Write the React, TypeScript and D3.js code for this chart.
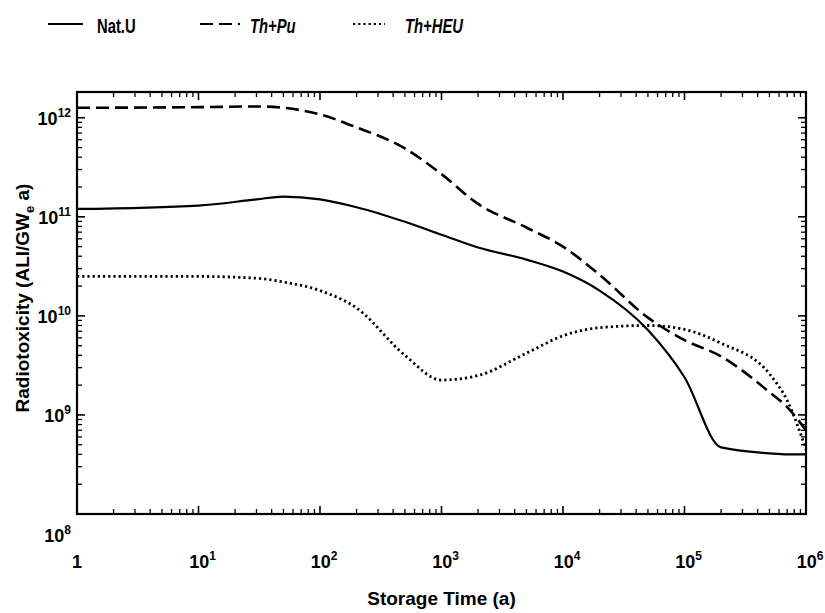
import React from 'react'
import * as d3 from 'd3'

// storage times (years)
const times = [1, 10, 30, 50, 100, 200, 500, 1e3, 2e3, 5e3, 1e4, 2e4, 5e4, 1e5, 2e5, 5e5, 7e5, 1e6]

// radiotoxicity (ALI/GWe a)
const natU = [1.2e11, 1.3e11, 1.5e11, 1.6e11, 1.5e11, 1.25e11, 8.9e10, 6.6e10, 4.9e10, 3.7e10, 2.8e10, 1.8e10, 7.2e9, 2.4e9, 4.7e8, 4.1e8, 4.0e8, 4.0e8]
const thPu = [1.26e12, 1.28e12, 1.3e12, 1.26e12, 1.08e12, 8.0e11, 4.9e11, 2.7e11, 1.35e11, 7.8e10, 5.0e10, 2.6e10, 9.6e9, 5.7e9, 3.9e9, 1.7e9, 1.2e9, 7.0e8]
const thHeu = [2.5e10, 2.5e10, 2.4e10, 2.2e10, 1.8e10, 1.2e10, 4.0e9, 2.25e9, 2.5e9, 4.2e9, 6.3e9, 7.6e9, 8.0e9, 7.3e9, 5.3e9, 2.6e9, 1.4e9, 4.5e8]

const seriesNames = ['Nat.U', 'Th+Pu', 'Th+HEU']
const xTickExps = [0, 1, 2, 3, 4, 5, 6]
const yTickExps = [8, 9, 10, 11, 12]

const W = 825
const H = 613
const margin = { top: 92, right: 19, bottom: 99, left: 77 }
const font = '"Liberation Sans", Arial, sans-serif'

function Pow({ exp }: { exp: number }) {
  if (exp === 0) return <>1</>
  return (
    <>
      10<tspan fontSize="12" dy="-8">{exp}</tspan>
    </>
  )
}

export default function App() {
  const w = W - margin.left - margin.right
  const h = H - margin.top - margin.bottom

  const x = d3.scaleLog().domain([1, 1e6]).range([0, w])
  const y = d3.scaleLog().domain([1e8, Math.pow(10, 12.26)]).range([h, 0])

  const line = d3.line<[number, number]>()
    .x(d => x(d[0]))
    .y(d => y(d[1]))
    .curve(d3.curveMonotoneX)

  const mk = (vals: number[]) => times.map((t, i) => [t, vals[i]] as [number, number])

  const styles = [
    { data: mk(natU), dash: 'none', width: 2.2 },
    { data: mk(thPu), dash: '13,6', width: 2.6 },
    { data: mk(thHeu), dash: '2.2,3', width: 2.8 }
  ]

  // minor ticks for log axes
  const xMinor: number[] = []
  for (let k = 0; k < 6; k++) for (let m = 2; m <= 9; m++) xMinor.push(m * Math.pow(10, k))
  const yMinor: number[] = []
  for (let k = 8; k < 13; k++) for (let m = 2; m <= 9; m++) {
    const v = m * Math.pow(10, k)
    if (v <= y.domain()[1]) yMinor.push(v)
  }

  const legendX = [48, 200, 353]
  const legendLen = [35, 40, 32]
  const legendGap = [14, 10, 20]

  return (
    <svg width={W} height={H} style={{ position: 'absolute', left: 0, top: 0, background: '#fff' }}>
      {/* legend */}
      <g fontFamily={font} fontWeight="bold" fontSize="20">
        {seriesNames.map((name, i) => (
          <g key={name} transform={`translate(${legendX[i]},24)`}>
            <line x1={0} x2={legendLen[i]} y1={0} y2={0} stroke="#000"
              strokeWidth={styles[i].width * 0.8} strokeDasharray={styles[i].dash} />
            <text transform={`translate(${legendLen[i] + legendGap[i]},9) scale(0.74,1)`}
              fontStyle={i === 0 ? 'normal' : 'italic'}>{name}</text>
          </g>
        ))}
      </g>

      <g transform={`translate(${margin.left},${margin.top})`}>
        {/* curves */}
        {styles.map((s, i) => (
          <path key={i} d={line(s.data) || ''} fill="none" stroke="#000"
            strokeWidth={s.width} strokeDasharray={s.dash} />
        ))}

        {/* frame */}
        <rect x={0} y={0} width={w} height={h} fill="none" stroke="#000" strokeWidth={2.2} />

        {/* x ticks, inward on top and bottom */}
        {xMinor.map((v, i) => (
          <g key={'xm' + i} stroke="#000" strokeWidth={1.3}>
            <line x1={x(v)} x2={x(v)} y1={h} y2={h - 5} />
            <line x1={x(v)} x2={x(v)} y1={0} y2={5} />
          </g>
        ))}
        {xTickExps.map(e => (
          <g key={'xM' + e} stroke="#000" strokeWidth={1.6}>
            <line x1={x(Math.pow(10, e))} x2={x(Math.pow(10, e))} y1={h} y2={h - 8} />
            <line x1={x(Math.pow(10, e))} x2={x(Math.pow(10, e))} y1={0} y2={8} />
          </g>
        ))}

        {/* y ticks, inward on left and right */}
        {yMinor.map((v, i) => (
          <g key={'ym' + i} stroke="#000" strokeWidth={1.3}>
            <line x1={0} x2={5} y1={y(v)} y2={y(v)} />
            <line x1={w} x2={w - 5} y1={y(v)} y2={y(v)} />
          </g>
        ))}
        {yTickExps.map(e => (
          <g key={'yM' + e} stroke="#000" strokeWidth={1.6}>
            <line x1={0} x2={8} y1={y(Math.pow(10, e))} y2={y(Math.pow(10, e))} />
            <line x1={w} x2={w - 8} y1={y(Math.pow(10, e))} y2={y(Math.pow(10, e))} />
          </g>
        ))}

        {/* tick labels */}
        <g fontFamily={font} fontWeight="bold" fontSize="18" fill="#000">
          {xTickExps.map(e => (
            <text key={'xl' + e} x={x(Math.pow(10, e)) + (e === 0 ? 0 : 4)} y={h + 54} textAnchor="middle">
              <Pow exp={e} />
            </text>
          ))}
          {yTickExps.map(e => (
            <text key={'yl' + e} x={-6} y={y(Math.pow(10, e)) + (e === 8 ? 28 : 7)} textAnchor="end">
              <Pow exp={e} />
            </text>
          ))}
        </g>
      </g>

      {/* axis titles */}
      <text x={margin.left + w / 2} y={H - 8} textAnchor="middle"
        fontFamily={font} fontWeight="bold" fontSize="19">Storage Time (a)</text>
      <text transform={`translate(29,${margin.top + h / 2 - 5}) rotate(-90)`} textAnchor="middle"
        fontFamily={font} fontWeight="bold" fontSize="19">
        Radiotoxicity (ALI/GW<tspan fontSize="13" dy="5">e</tspan><tspan dy="-5"> a)</tspan>
      </text>
    </svg>
  )
}
